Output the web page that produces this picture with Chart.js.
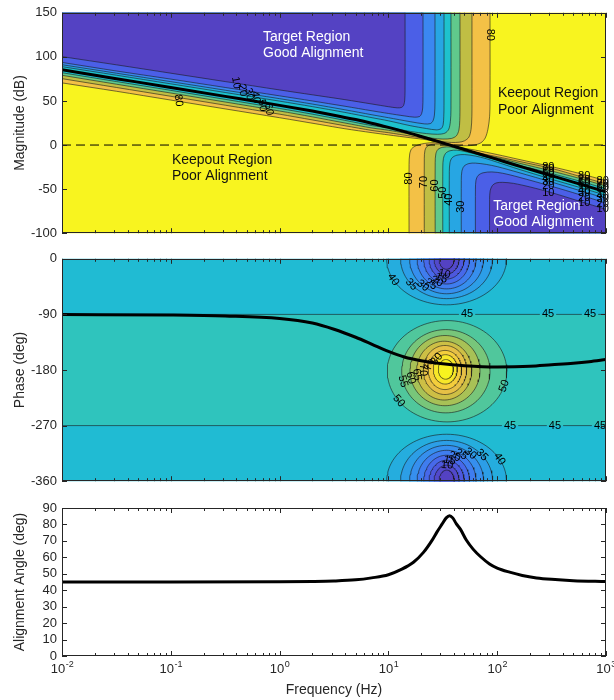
<!DOCTYPE html>
<html>
<head>
<meta charset="utf-8">
<title>Loop alignment: magnitude, phase and alignment angle</title>
<script src="https://cdn.jsdelivr.net/npm/chart.js@4.4.1/dist/chart.umd.min.js"></script>
<style>
  html, body { margin: 0; padding: 0; background: #ffffff; }
  body { width: 614px; height: 700px; position: relative; overflow: hidden; }
  canvas { position: absolute; left: 0; }
</style>
</head>
<body>
<canvas id="magChart" width="614" height="246" style="top:0px"></canvas>
<canvas id="phaseChart" width="614" height="248" style="top:246px"></canvas>
<canvas id="alignChart" width="614" height="210" style="top:490px"></canvas>
<script>
// ---------------- open-loop response ----------------
const magFreqHz = [0.01, 0.0316, 0.1, 0.316, 1, 2, 3.16, 5, 7, 10, 14, 20, 27, 35, 50, 70, 100, 150, 200, 316, 500, 700, 1000];
const magDb     = [85.3, 75.3, 65.3, 55.2, 45, 38.5, 33.9, 28.9, 24.8, 20, 15.2, 9.7, 4.95, 0.8, -5, -10.5, -16.3, -22.9, -27.5, -34.8, -42.1, -47.4, -53];

const phaseFreqHz = [0.01, 0.1, 0.316, 1, 2, 3.16, 5, 7, 10, 14, 20, 30, 50, 100, 200, 316, 500, 700, 1000];
const phaseDeg    = [-90.3, -91, -92.5, -96.5, -104, -114, -127, -138, -150, -159, -165, -169.5, -173, -175, -174, -171.5, -169, -166.5, -163];

const alignFreqHz = [0.01, 0.1, 1, 2, 3.16, 5, 7, 10, 13, 17, 21, 25, 28, 31, 34, 36.5, 39, 42, 46, 52, 60, 70, 85, 100, 130, 170, 230, 316, 500, 1000];
const alignDeg    = [45, 45, 45.1, 45.3, 45.6, 46.3, 47.5, 49.4, 52.5, 57, 63, 70, 75.5, 80, 84, 85.3, 84, 80.5, 77, 70.5, 65, 60.5, 56, 53.5, 51, 49, 47.5, 46.6, 45.8, 45.3];

// ---------------- axes ----------------
const decadeExps = [-2, -1, 0, 1, 2, 3];
const magTicks   = [-100, -50, 0, 50, 100, 150];
const phaseTicks = [-360, -270, -180, -90, 0];
const alignTicks = [0, 10, 20, 30, 40, 50, 60, 70, 80, 90];

// ---------------- magnitude-plane alignment contours ----------------
// points are [log10(frequency / Hz), magnitude dB]
const magLevels = [10, 20, 30, 40, 50, 60, 70, 80];
// upper-left family (low alignment towards the top-left corner)
const ulC10 = [[-2.1,102.3],[-2,100.3],[-1.5,91],[-1,81.5],[-0.5,72],[0,62.5],[0.3,57],[0.6,51.5],[0.85,46.5],[1.0,43.5],[1.08,42.2],[1.12,42.6],[1.14,45],[1.15,51],[1.153,62],[1.153,170]];
const ulC20 = [[-2.1,95.6],[-2,93.7],[-1.5,84],[-1,74.8],[-0.5,65.3],[0,55.8],[0.3,50],[0.6,44],[0.85,38.8],[1.0,35.8],[1.15,33],[1.24,31.6],[1.285,32.3],[1.305,35.5],[1.315,42],[1.318,55],[1.318,170]];
const ulC30 = [[-2.1,93],[-2,91.1],[-1.5,81.5],[-1,71.9],[-0.5,62.2],[0,52.6],[0.3,46.5],[0.6,40],[0.85,34.3],[1.0,31],[1.2,26.5],[1.33,24],[1.385,24.3],[1.41,27.5],[1.423,34],[1.428,48],[1.428,170]];
const ulC40 = [[-2.1,90.8],[-2,88.9],[-1.5,79.2],[-1,69.4],[-0.5,59.6],[0,49.8],[0.3,43.6],[0.6,37],[0.85,31],[1.0,27.5],[1.2,22],[1.35,18.7],[1.44,17.2],[1.485,18.6],[1.503,23],[1.509,32],[1.511,45],[1.511,170]];
const ulC50 = [[-2.1,84],[-2,82],[-1.5,72],[-1,62],[-0.5,51.8],[0,41.5],[0.3,35],[0.6,28],[0.85,22],[1.02,19.3],[1.2,15.5],[1.35,13],[1.45,12.2],[1.52,13.5],[1.555,18],[1.57,27],[1.575,40],[1.575,170]];
const ulC60 = [[-2.1,81],[-2,79.1],[-1.5,69],[-1,59],[-0.5,48.8],[0,38.6],[0.3,32],[0.6,25],[0.85,19.3],[1.0,16.8],[1.15,13.6],[1.28,10.4],[1.4,7.8],[1.5,6.8],[1.58,7.5],[1.625,10.5],[1.648,17],[1.656,28],[1.658,45],[1.658,170]];
const ulC70 = [[-2.1,77.2],[-2,75.3],[-1.5,65.3],[-1,55.3],[-0.5,45.2],[0,35],[0.3,28.5],[0.6,21.9],[0.85,16.5],[1.0,14],[1.2,10.2],[1.39,6.4],[1.5,3.9],[1.58,2.9],[1.65,3.2],[1.7,4.8],[1.74,9],[1.76,18],[1.767,32],[1.768,50],[1.768,170]];
const ulC80 = [[-2.1,72.4],[-2,70.5],[-1.5,61],[-1,51],[-0.5,41],[0,31],[0.37,23.3],[0.6,18.5],[0.85,14],[1.0,11.5],[1.2,8.3],[1.35,6],[1.49,2.6],[1.57,0.9],[1.65,-0.5],[1.72,-0.8],[1.79,0],[1.85,2.5],[1.89,8],[1.915,18],[1.93,32],[1.934,50],[1.934,170]];
// lower-right family (low alignment towards the bottom-right corner)
const lrC10 = [[1.93,-120],[1.93,-62],[1.935,-52],[1.955,-46],[1.99,-43],[2.05,-42.3],[2.15,-43.5],[2.3,-47.5],[2.5,-54],[2.75,-63.5],[3.0,-73],[3.1,-77]];
const lrC20 = [[1.8,-120],[1.8,-50],[1.805,-40],[1.825,-34.5],[1.87,-31.5],[1.95,-30.5],[2.05,-32],[2.2,-36.5],[2.5,-46.8],[2.75,-56],[3.0,-66],[3.1,-70]];
const lrC30 = [[1.67,-120],[1.67,-40],[1.675,-30],[1.695,-24],[1.74,-21],[1.8,-20.5],[1.9,-22],[2.0,-24.5],[2.2,-31.3],[2.5,-42],[2.75,-51.3],[3.0,-60.5],[3.1,-64]];
const lrC40 = [[1.56,-120],[1.56,-30],[1.566,-20],[1.585,-14.5],[1.63,-11.5],[1.7,-10.8],[1.8,-12.5],[1.9,-15.5],[2.0,-19.5],[2.2,-27.5],[2.5,-38.8],[2.75,-47.8],[3.0,-57],[3.1,-60.5]];
const lrC50 = [[1.5,-120],[1.5,-25],[1.506,-15],[1.525,-9.5],[1.565,-6.5],[1.63,-5.8],[1.72,-7.8],[1.85,-11.8],[2.0,-16.8],[2.15,-21.9],[2.3,-26],[2.5,-32.3],[2.75,-40.6],[3.0,-49.5],[3.1,-53]];
const lrC60 = [[1.43,-120],[1.43,-20],[1.436,-10],[1.455,-5],[1.5,-2.5],[1.57,-2.2],[1.65,-4.6],[1.75,-7.6],[1.85,-10.7],[2.0,-14.5],[2.2,-20.5],[2.5,-29.5],[2.75,-37.6],[3.0,-46.5],[3.1,-50]];
const lrC70 = [[1.33,-120],[1.33,-15],[1.336,-6],[1.355,-1.5],[1.4,0.8],[1.47,1.2],[1.55,-0.3],[1.65,-3.6],[1.745,-6.7],[1.85,-9.6],[2.0,-13.2],[2.2,-18.5],[2.5,-26.5],[2.75,-35.2],[3.0,-44],[3.1,-47.5]];
const lrC80 = [[1.19,-120],[1.19,-22],[1.196,-10],[1.215,-4],[1.26,-0.5],[1.33,1.8],[1.42,2.7],[1.5,1.6],[1.56,0],[1.625,-2.2],[1.7,-3.7],[1.8,-5.8],[2.0,-10.8],[2.2,-16.3],[2.5,-24.5],[2.75,-32],[3.0,-40.5],[3.1,-44]];

// contour labels: [text, log10 Hz, dB, rotation deg]
const magContourLabels = [
  ['80', 1.934, 125, 90], ['80', -0.93, 50.5, 84],
  ['10', -0.40, 70.6, 80], ['20', -0.34, 62.3, 80], ['30', -0.28, 57.9, 80],
  ['40', -0.22, 54.2, 80], ['50', -0.16, 44.8, 80], ['60', -0.10, 40.5, 80],
  ['80', 1.19, -38, -90], ['70', 1.33, -42, -90], ['60', 1.43, -46, -90],
  ['50', 1.50, -54, -90], ['40', 1.56, -62, -90], ['30', 1.67, -70, -90],
  ['80', 2.47, -24.7, 0], ['70', 2.47, -27.7, 0], ['60', 2.47, -30, 0], ['50', 2.47, -32.9, 0],
  ['40', 2.47, -38.8, 0], ['30', 2.47, -41.8, 0], ['20', 2.47, -46.9, 0], ['10', 2.47, -54.4, 0],
  ['80', 2.80, -35.2, 0], ['70', 2.80, -39.1, 0], ['60', 2.80, -41.6, 0], ['50', 2.80, -44.6, 0],
  ['40', 2.80, -51.7, 0], ['30', 2.80, -54.8, 0], ['20', 2.80, -59.9, 0], ['10', 2.80, -65.9, 0],
  ['80', 2.97, -41, 0], ['70', 2.97, -44.5, 0], ['60', 2.97, -47, 0], ['50', 2.97, -50, 0],
  ['40', 2.97, -57.5, 0], ['30', 2.97, -61, 0], ['20', 2.97, -66.4, 0], ['10', 2.97, -72.4, 0]
];
// region captions: [text, log10 Hz (left edge), dB, colour]
const magRegionText = [
  ['Target Region', -0.152, 122.6, '#ffffff'], ['Good Alignment', -0.152, 104, '#ffffff'],
  ['Keepout Region', 2.007, 58.4, '#111111'], ['Poor Alignment', 2.007, 39.3, '#111111'],
  ['Keepout Region', -0.99, -16.7, '#111111'], ['Poor Alignment', -0.99, -34.9, '#111111'],
  ['Target Region', 1.964, -69.6, '#ffffff'], ['Good Alignment', 1.964, -88, '#ffffff']
];

// ---------------- phase-plane alignment contours ----------------
const midRingLevels    = [50, 55, 60, 65, 70, 75, 80, 85];
const midRingCentreDec = [1.539, 1.528, 1.520, 1.513, 1.520, 1.520, 1.523, 1.528];
const midRingCentreDeg = [-182, -182, -181, -181, -180, -180, -179, -179];
const midRingHalfDec   = [0.549, 0.406, 0.322, 0.253, 0.199, 0.153, 0.110, 0.069];
const midRingHalfDeg   = [82, 67.4, 56.8, 47.6, 39.7, 31.7, 23.8, 15.9];

const edgeRingLevels    = [40, 35, 30, 25, 20, 15, 10, 5];
const edgeRingCentreDec = [1.535, 1.535, 1.535, 1.535, 1.535, 1.535, 1.535, 1.535];
const edgeRingHalfDec   = [0.551, 0.423, 0.340, 0.271, 0.211, 0.161, 0.115, 0.069];
const topRingHalfDeg    = [74.5, 64.5, 56.6, 48.7, 40.8, 32.8, 24.9, 17];
const bottomRingHalfDeg = [76, 66, 58, 50, 42, 34, 26, 18];

const level45Phases = [-90, -270];
const level45LabelsAt90  = [1.723, 2.467, 2.853];
const level45LabelsAt270 = [2.118, 2.531, 2.945];

// ring labels: [text, blob, ring index, angle round the ring (deg, screen clockwise from +x)]
const phaseRingLabels = [
  ['40', 'top', 0, 153], ['35', 'top', 1, 140], ['30', 'top', 2, 130], ['25', 'top', 3, 122],
  ['20', 'top', 4, 115], ['15', 'top', 5, 108], ['10', 'top', 6, 100],
  ['50', 'mid', 0, 144], ['50', 'mid', 0, 17], ['55', 'mid', 1, 166], ['60', 'mid', 2, 168],
  ['65', 'mid', 3, 172], ['70', 'mid', 4, 180], ['75', 'mid', 5, 196], ['80', 'mid', 6, 225],
  ['40', 'bot', 0, -28], ['35', 'bot', 1, -40], ['30', 'bot', 2, -50], ['25', 'bot', 3, -60],
  ['20', 'bot', 4, -70], ['15', 'bot', 5, -80], ['10', 'bot', 6, -88]
];

// ---------------- styling ----------------
const FONT = "'Liberation Sans', Arial, Helvetica, sans-serif";
const AXIS_INK = '#262626';
const CONTOUR_INK = 'rgba(25,25,25,0.85)';
Chart.defaults.font.family = FONT;
Chart.defaults.color = AXIS_INK;

// parula-like colour ramp sampled at band centres
const colourStops = [
  [5, [84, 66, 195]], [15, [75, 95, 231]], [25, [59, 135, 241]], [35, [39, 166, 227]],
  [45, [30, 194, 205]], [55, [96, 201, 140]], [65, [192, 190, 68]], [75, [243, 193, 70]], [85, [248, 244, 31]]
];
function rgb(c) { return `rgb(${Math.round(c[0])},${Math.round(c[1])},${Math.round(c[2])})`; }
function levelColour(v) {
  if (v <= colourStops[0][0]) return rgb(colourStops[0][1]);
  for (let i = 1; i < colourStops.length; i++) {
    const [v1, c1] = colourStops[i];
    if (v <= v1) {
      const [v0, c0] = colourStops[i - 1];
      const f = (v - v0) / (v1 - v0);
      return rgb(c0.map((c, k) => c + (c1[k] - c) * f));
    }
  }
  return rgb(colourStops[colourStops.length - 1][1]);
}

const pts = path => path.map(([d, v]) => ({ x: Math.pow(10, d), y: v }));

function fillSet(points, colour, order, tension) {
  return { data: points, fill: 'shape', backgroundColor: colour, borderColor: 'rgba(0,0,0,0)',
           borderWidth: 0, pointRadius: 0, tension: tension, order: order };
}
function strokeSet(points, order, tension) {
  return { data: points, fill: false, borderColor: CONTOUR_INK, borderWidth: 0.7,
           pointRadius: 0, tension: tension, order: order };
}
function curveSet(xs, ys, order, width) {
  return { data: xs.map((x, i) => ({ x: x, y: ys[i] })), fill: false, borderColor: '#000000',
           borderWidth: width, pointRadius: 0, cubicInterpolationMode: 'monotone', order: order };
}
// closed outline of an elliptical contour ring (decade / degree units)
function ringPoints(cDec, cDeg, hDec, hDeg) {
  const out = [];
  for (let k = 0; k <= 96; k++) {
    const a = (k / 96) * 2 * Math.PI;
    out.push({ x: Math.pow(10, cDec + hDec * Math.cos(a)), y: cDeg - hDeg * Math.sin(a) });
  }
  return out;
}

// ---------------- plugins ----------------
function boxAxesPlugin(yTicks, withXLabels) {
  return {
    id: 'boxAxes',
    afterDraw(chart) {
      const { ctx, chartArea: a } = chart;
      const xs = chart.scales.x, ys = chart.scales.y;
      ctx.save();
      ctx.strokeStyle = AXIS_INK;
      ctx.lineWidth = 1;
      ctx.beginPath();
      decadeExps.forEach((e, i) => {
        const steps = i === decadeExps.length - 1 ? 1 : 9;
        for (let k = 1; k <= steps; k++) {
          const px = Math.round(xs.getPixelForValue(k * Math.pow(10, e))) + 0.5;
          const len = k === 1 ? 5 : 3;
          ctx.moveTo(px, a.bottom); ctx.lineTo(px, a.bottom - len);
          ctx.moveTo(px, a.top); ctx.lineTo(px, a.top + len);
        }
      });
      yTicks.forEach(v => {
        const py = Math.round(ys.getPixelForValue(v)) + 0.5;
        ctx.moveTo(a.left, py); ctx.lineTo(a.left + 5, py);
        ctx.moveTo(a.right, py); ctx.lineTo(a.right - 5, py);
      });
      ctx.stroke();
      ctx.strokeRect(Math.round(a.left) + 0.5, Math.round(a.top) + 0.5, Math.round(a.width) - 1, Math.round(a.height) - 1);
      if (withXLabels) {
        ctx.fillStyle = AXIS_INK;
        ctx.textBaseline = 'alphabetic';
        ctx.textAlign = 'left';
        decadeExps.forEach(e => {
          const px = xs.getPixelForValue(Math.pow(10, e));
          const sup = String(e);
          ctx.font = `13px ${FONT}`;
          const wb = ctx.measureText('10').width;
          ctx.font = `9px ${FONT}`;
          const ws = ctx.measureText(sup).width;
          const x0 = px - (wb + ws) / 2;
          const base = a.bottom + 17;
          ctx.font = `13px ${FONT}`;
          ctx.fillText('10', x0, base);
          ctx.font = `9px ${FONT}`;
          ctx.fillText(sup, x0 + wb + 0.5, base - 6);
        });
        ctx.font = `14px ${FONT}`;
        ctx.textAlign = 'center';
        ctx.textBaseline = 'middle';
        ctx.fillText('Frequency (Hz)', (a.left + a.right) / 2, a.bottom + 34);
      }
      ctx.restore();
    }
  };
}

function textMarksPlugin(getMarks) {
  return {
    id: 'textMarks',
    afterDatasetDraw(chart, args) {
      const ds = chart.data.datasets[args.index];
      if (!ds.labelsAfter) return;
      const { ctx } = chart;
      const xs = chart.scales.x, ys = chart.scales.y;
      ctx.save();
      getMarks(xs, ys).forEach(m => {
        ctx.save();
        ctx.translate(xs.getPixelForValue(Math.pow(10, m.dec)), ys.getPixelForValue(m.val));
        ctx.rotate((m.rot || 0) * Math.PI / 180);
        ctx.font = m.font;
        ctx.fillStyle = m.colour;
        ctx.textAlign = m.align || 'center';
        ctx.textBaseline = 'middle';
        ctx.fillText(m.text, 0, 0);
        ctx.restore();
      });
      ctx.restore();
    }
  };
}

function baseOptions(yMin, yMax, yTicks, yTitle, padding) {
  return {
    responsive: false,
    animation: false,
    devicePixelRatio: 1,
    events: [],
    layout: { padding: padding },
    plugins: { legend: { display: false }, tooltip: { enabled: false } },
    elements: { point: { radius: 0, hitRadius: 0 }, line: { capBezierPoints: false } },
    scales: {
      x: { type: 'logarithmic', min: 0.01, max: 1000, display: false },
      y: {
        type: 'linear', min: yMin, max: yMax,
        afterBuildTicks: s => { s.ticks = yTicks.map(v => ({ value: v })); },
        afterFit: s => { s.width = 62; },
        grid: { display: false, drawTicks: false },
        border: { display: false },
        ticks: { autoSkip: false, padding: 5, color: AXIS_INK, font: { size: 13 }, callback: v => String(v) },
        title: { display: true, text: yTitle, color: AXIS_INK, font: { size: 14 }, padding: { top: 12, bottom: 0 } }
      }
    }
  };
}

// ---------------- magnitude panel ----------------
const ulPaths = [ulC10, ulC20, ulC30, ulC40, ulC50, ulC60, ulC70, ulC80];
const lrPaths = [lrC10, lrC20, lrC30, lrC40, lrC50, lrC60, lrC70, lrC80];
const magSets = [];
magSets.push(fillSet(pts([[-2.2, 170], [3.2, 170], [3.2, -120], [-2.2, -120]]), levelColour(85), 300, 0));
ulPaths.forEach((p, i) => {
  const v = p[p.length - 1][0];
  // close the region round the top-left corner, outside the plot box
  const outline = p.concat([[v, 185], [v, 190], [-2.2, 190]]);
  magSets.push(fillSet(pts(outline), levelColour(magLevels[i] - 5), 200 + i, 0.3));
  magSets.push(strokeSet(pts(p), 50, 0.3));
});
lrPaths.forEach((p, i) => {
  const v = p[0][0];
  const last = p[p.length - 1];
  // close the region round the bottom-right corner, outside the plot box
  const outline = [[3.25, -140], [v, -140], [v, -135]].concat(p, [[3.2, last[1]], [3.25, last[1]]]);
  magSets.push(fillSet(pts(outline), levelColour(magLevels[i] - 5), 100 + i, 0.3));
  magSets.push(strokeSet(pts(p), 50, 0.3));
});
magSets.push({ data: pts([[-2, 0], [3, 0]]), fill: false, borderColor: '#000000', borderWidth: 1,
               borderDash: [9, 5], pointRadius: 0, order: 10, labelsAfter: true });
magSets.push(curveSet(magFreqHz, magDb, 0, 3));

const magMarks = () => magContourLabels.map(([s, d, v, r]) => ({ text: s, dec: d, val: v, rot: r, font: `11px ${FONT}`, colour: '#000000' }))
  .concat(magRegionText.map(([s, d, v, c]) => ({ text: s, dec: d, val: v, rot: 0, font: `14px ${FONT}`, colour: c, align: 'left' })));

new Chart(document.getElementById('magChart'), {
  type: 'line',
  data: { datasets: magSets },
  options: baseOptions(-100, 150, magTicks, 'Magnitude (dB)', { top: 8, bottom: 10, left: 0, right: 8 }),
  plugins: [textMarksPlugin(magMarks), boxAxesPlugin(magTicks, false)]
});

// ---------------- phase panel ----------------
const phaseSets = [];
phaseSets.push(fillSet(pts([[-2.2, 20], [3.2, 20], [3.2, -380], [-2.2, -380]]), levelColour(42.5), 300, 0));
phaseSets.push(fillSet(pts([[-2.2, -90], [3.2, -90], [3.2, -270], [-2.2, -270]]), levelColour(47.5), 290, 0));
midRingLevels.forEach((lv, i) => {
  const ring = ringPoints(midRingCentreDec[i], midRingCentreDeg[i], midRingHalfDec[i], midRingHalfDeg[i]);
  phaseSets.push(Object.assign(fillSet(ring, levelColour(lv + 2.5), 280 - i, 0), { borderColor: CONTOUR_INK, borderWidth: 0.7 }));
});
edgeRingLevels.forEach((lv, i) => {
  const top = ringPoints(edgeRingCentreDec[i], 0, edgeRingHalfDec[i], topRingHalfDeg[i]);
  const bot = ringPoints(edgeRingCentreDec[i], -360, edgeRingHalfDec[i], bottomRingHalfDeg[i]);
  phaseSets.push(Object.assign(fillSet(top, levelColour(lv - 2.5), 260 - i, 0), { borderColor: CONTOUR_INK, borderWidth: 0.7 }));
  phaseSets.push(Object.assign(fillSet(bot, levelColour(lv - 2.5), 240 - i, 0), { borderColor: CONTOUR_INK, borderWidth: 0.7 }));
});
function brokenLevelLine(phase, gaps) {
  const out = [{ x: Math.pow(10, -2.1), y: phase }];
  gaps.forEach(g => {
    out.push({ x: Math.pow(10, g - 0.075), y: phase });
    out.push({ x: Math.pow(10, g), y: null });
    out.push({ x: Math.pow(10, g + 0.075), y: phase });
  });
  out.push({ x: Math.pow(10, 3.1), y: phase });
  return out;
}
phaseSets.push(strokeSet(brokenLevelLine(level45Phases[0], level45LabelsAt90), 11, 0));
phaseSets.push(Object.assign(strokeSet(brokenLevelLine(level45Phases[1], level45LabelsAt270), 10, 0), { labelsAfter: true }));
phaseSets.push(curveSet(phaseFreqHz, phaseDeg, 0, 3));

function phaseMarks(xs, ys) {
  const marks = [];
  level45LabelsAt90.forEach(d => marks.push({ text: '45', dec: d, val: level45Phases[0], rot: 0, font: `11px ${FONT}`, colour: '#000' }));
  level45LabelsAt270.forEach(d => marks.push({ text: '45', dec: d, val: level45Phases[1], rot: 0, font: `11px ${FONT}`, colour: '#000' }));
  phaseRingLabels.forEach(([label, blob, i, ang]) => {
    let cDec, cDeg, hDec, hDeg;
    if (blob === 'mid') { cDec = midRingCentreDec[i]; cDeg = midRingCentreDeg[i]; hDec = midRingHalfDec[i]; hDeg = midRingHalfDeg[i]; }
    else if (blob === 'top') { cDec = edgeRingCentreDec[i]; cDeg = 0; hDec = edgeRingHalfDec[i]; hDeg = topRingHalfDeg[i]; }
    else { cDec = edgeRingCentreDec[i]; cDeg = -360; hDec = edgeRingHalfDec[i]; hDeg = bottomRingHalfDeg[i]; }
    const a = ang * Math.PI / 180;
    const rx = Math.abs(xs.getPixelForValue(Math.pow(10, cDec + hDec)) - xs.getPixelForValue(Math.pow(10, cDec)));
    const ry = Math.abs(ys.getPixelForValue(cDeg - hDeg) - ys.getPixelForValue(cDeg));
    let rot = Math.atan2(ry * Math.cos(a), -rx * Math.sin(a)) * 180 / Math.PI;
    if (rot > 90) rot -= 180;
    if (rot <= -90) rot += 180;
    marks.push({ text: label, dec: cDec + hDec * Math.cos(a), val: cDeg - hDeg * Math.sin(a), rot: rot, font: `11px ${FONT}`, colour: '#000' });
  });
  return marks;
}

new Chart(document.getElementById('phaseChart'), {
  type: 'line',
  data: { datasets: phaseSets },
  options: baseOptions(-360, 0, phaseTicks, 'Phase (deg)', { top: 10, bottom: 11, left: 0, right: 8 }),
  plugins: [textMarksPlugin(phaseMarks), boxAxesPlugin(phaseTicks, false)]
});

// ---------------- alignment angle panel ----------------
new Chart(document.getElementById('alignChart'), {
  type: 'line',
  data: { datasets: [curveSet(alignFreqHz, alignDeg, 0, 3)] },
  options: baseOptions(0, 90, alignTicks, 'Alignment Angle (deg)', { top: 18, bottom: 44, left: 0, right: 8 }),
  plugins: [boxAxesPlugin(alignTicks, true)]
});
</script>
</body>
</html>
